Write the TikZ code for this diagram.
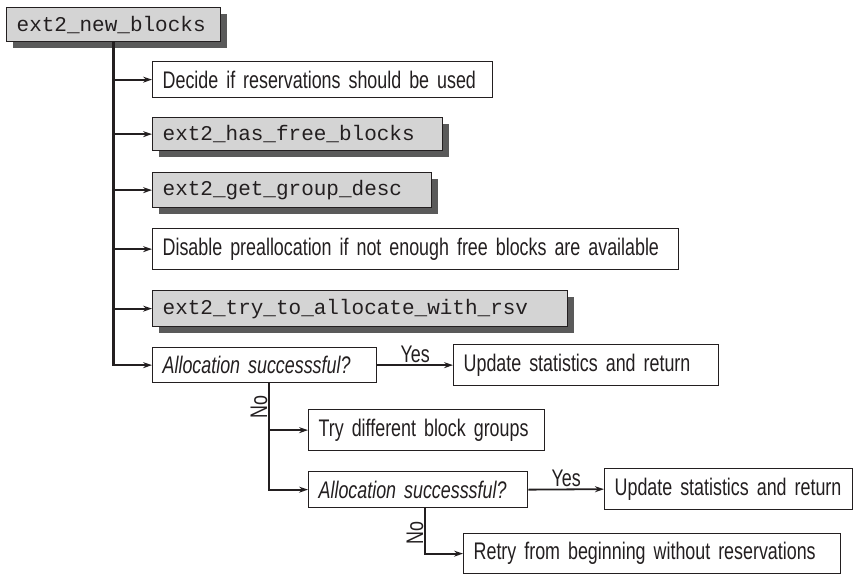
\documentclass[tikz,border=0pt]{standalone}
\usepackage{fontspec}
\newfontfamily\cond[FakeStretch=0.745]{Liberation Sans}
\newfontfamily\mono{Liberation Mono}
\usetikzlibrary{arrows.meta,shadows}
\definecolor{ink}{HTML}{231F20}
\definecolor{boxgray}{HTML}{D4D4D4}
\definecolor{shadowgray}{HTML}{5A5A5A}
\begin{document}
\begin{tikzpicture}[x=1pt,y=-1pt,
  txtfont/.style={font=\cond\fontsize{24}{26}\selectfont, text=ink},
  tbox/.style={txtfont, draw=ink, line width=1.3pt, fill=white, anchor=north west,
    inner xsep=10pt, inner ysep=0pt, align=left},
  fbox/.style={font=\mono\fontsize{21}{23}\selectfont, text=ink, draw=ink, line width=1.3pt,
    fill=boxgray, anchor=north west, inner xsep=10pt, inner ysep=0pt, align=left,
    drop shadow={shadow xshift=6pt, shadow yshift=-6pt, fill=shadowgray, opacity=1}},
  arr/.style={draw=ink, line width=1.8pt, -{Stealth[length=9pt,width=6pt]}},
  trunk/.style={draw=ink, line width=2.6pt},
  lbl/.style={txtfont, inner sep=1.5pt}]
\useasboundingbox (0,0) rectangle (854,575);

\node[fbox, text width=194pt, minimum height=34pt] (a) at (6,7) {\mbox{ext2\_new\_blocks}};

\node[tbox, text width=320pt, minimum height=36pt] (b1) at (152,61) {\mbox{Decide if reservations should be used}};
\node[fbox, text width=270pt, minimum height=33pt] (b2) at (152,117) {\mbox{ext2\_has\_free\_blocks}};
\node[fbox, text width=259pt, minimum height=35pt] (b3) at (152,172) {\mbox{ext2\_get\_group\_desc}};
\node[tbox, text width=506pt, minimum height=41pt] (b4) at (152,228) {\mbox{Disable preallocation if not enough free blocks are available}};
\node[fbox, text width=395pt, minimum height=36pt] (b5) at (152,290) {\mbox{ext2\_try\_to\_allocate\_with\_rsv}};
\node[tbox, text width=204pt, minimum height=35pt] (b6) at (152,347) {\mbox{\itshape Allocation successsful?}};
\node[tbox, text width=245pt, minimum height=41pt] (b7) at (453,344) {\mbox{Update statistics and return}};
\node[tbox, text width=216pt, minimum height=41pt] (b8) at (308,409) {\mbox{Try different block groups}};
\node[tbox, text width=199pt, minimum height=36pt] (b9) at (308,471) {\mbox{\itshape Allocation successsful?}};
\node[tbox, text width=228pt, minimum height=41pt] (b10) at (604,468) {\mbox{Update statistics and return}};
\node[tbox, text width=357pt, minimum height=40pt] (b11) at (463,533) {\mbox{Retry from beginning without reservations}};

% trunk
\draw[trunk] (a.south) -- ([yshift=-1pt]a.south |- b6.west);
\foreach \n in {b1,b2,b3,b4,b5,b6}
  \draw[arr] (a.south |- \n.west) -- (\n.west);

% first decision
\draw[arr] (b6.east) -- node[lbl, above] (y1) {Yes} (b7.west);
\coordinate (n1) at ([xshift=117pt]b6.south west);
\draw[arr] (n1) |- (b9.west);
\draw[arr] (n1 |- b8.west) -- (b8.west);
\node[lbl, rotate=90, anchor=south] (no1) at ([yshift=-24pt]n1) {No};

% second decision
\draw[arr] (b9.east) -- node[lbl, above] (y2) {Yes} (b10.west);
\coordinate (n2) at ([xshift=117pt]b9.south west);
\draw[arr] (n2) |- (b11.west);
\node[lbl, rotate=90, anchor=south] (no2) at ([yshift=-25pt]n2) {No};
\end{tikzpicture}
\end{document}
